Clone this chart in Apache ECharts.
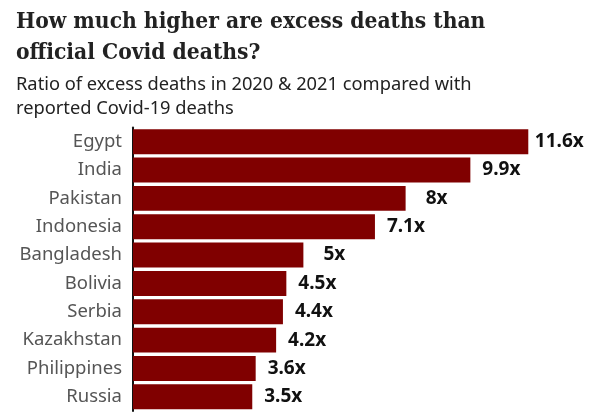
<!DOCTYPE html>
<html><head><meta charset="utf-8">
<script src="https://cdn.jsdelivr.net/npm/echarts@6/dist/echarts.min.js"></script>
<style>html,body{margin:0;padding:0;background:#fff}#c{width:600px;height:419px}</style>
</head><body><div id="c"></div>
<script>
const countries = ["Egypt","India","Pakistan","Indonesia","Bangladesh","Bolivia","Serbia","Kazakhstan","Philippines","Russia"];
const ratios = [11.6, 9.9, 8, 7.1, 5, 4.5, 4.4, 4.2, 3.6, 3.5];
const titleText = "How much higher are excess deaths than\nofficial Covid deaths?";
const subText = "Ratio of excess deaths in 2020 & 2021 compared with\nreported Covid-19 deaths";

const chart = echarts.init(document.getElementById('c'), null, {renderer:'canvas'});
chart.setOption({
  animation:false,
  title:{
    text:titleText, subtext:subText, left:16, top:7, itemGap:4, padding:0,
    textStyle:{fontFamily:'DejaVu Serif Condensed', fontWeight:'bold', fontSize:22.6, lineHeight:31, color:'#222'},
    subtextStyle:{fontFamily:'Noto Sans', fontSize:18.3, lineHeight:24, color:'#222'}
  },
  grid:{left:133, right:24, top:127.5, bottom:8, containLabel:false},
  xAxis:{type:'value', min:0, max:13, show:false},
  yAxis:{type:'category', data:countries, inverse:true,
    axisLine:{show:true, lineStyle:{color:'#111', width:2}},
    axisTick:{show:false},
    axisLabel:{fontFamily:'Noto Sans', fontSize:18.5, color:'#555', margin:11}
  },
  series:[{type:'bar', data:ratios, barCategoryGap:'12%',
    itemStyle:{color:'#800000'},
    label:{show:true, position:'right', distance:4,
      formatter:p=>'{a|'+p.value+'x}',
      rich:{a:{width:54, align:'center', fontFamily:'Noto Sans', fontWeight:'bold', fontSize:19, color:'#111'}}
    }
  }]
});
</script></body></html>
